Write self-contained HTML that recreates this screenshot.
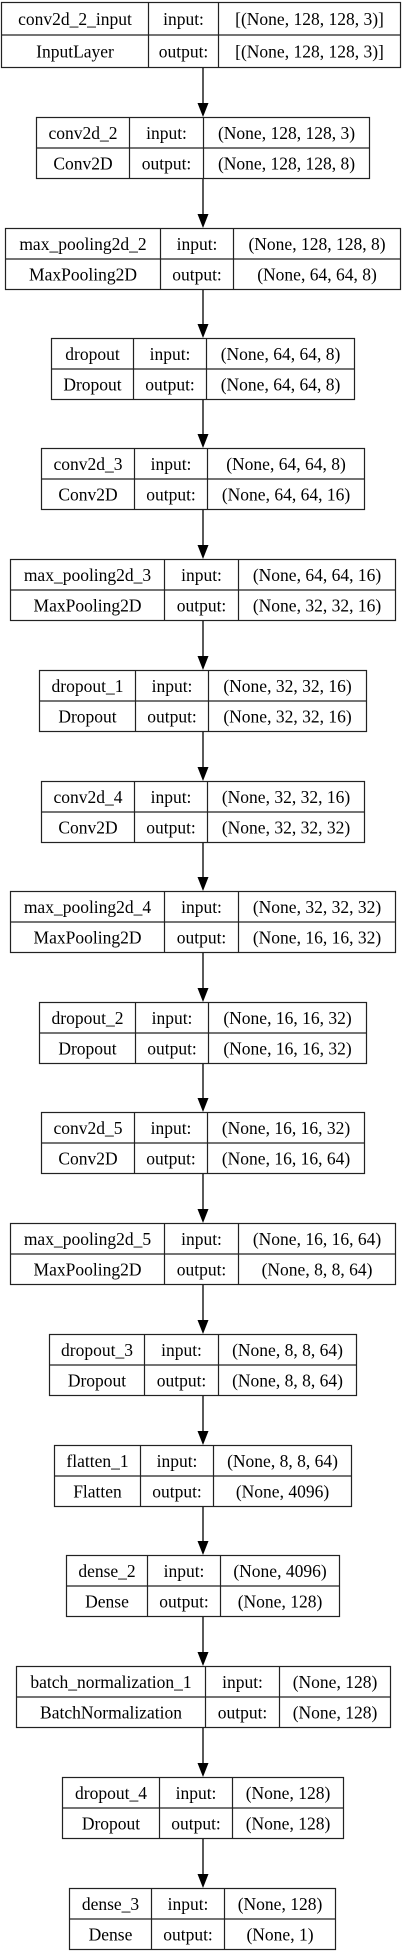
<!DOCTYPE html>
<html><head><meta charset="utf-8">
<style>
html,body{margin:0;padding:0;background:#fff;}
body{width:405px;height:1955px;overflow:hidden;position:relative;}
svg{position:absolute;left:0;top:0;}
text{font-family:"Liberation Serif","DejaVu Serif",serif;font-size:17.5px;fill:#000;}
</style></head>
<body>
<svg id="diagram" width="405" height="1955" viewBox="0 0 405 1955" xmlns="http://www.w3.org/2000/svg"></svg>
<script>
const layerNames = ["conv2d_2_input","conv2d_2","max_pooling2d_2","dropout","conv2d_3","max_pooling2d_3","dropout_1","conv2d_4","max_pooling2d_4","dropout_2","conv2d_5","max_pooling2d_5","dropout_3","flatten_1","dense_2","batch_normalization_1","dropout_4","dense_3"];
const layerTypes = ["InputLayer","Conv2D","MaxPooling2D","Dropout","Conv2D","MaxPooling2D","Dropout","Conv2D","MaxPooling2D","Dropout","Conv2D","MaxPooling2D","Dropout","Flatten","Dense","BatchNormalization","Dropout","Dense"];
const inputShapes = ["[(None, 128, 128, 3)]","(None, 128, 128, 3)","(None, 128, 128, 8)","(None, 64, 64, 8)","(None, 64, 64, 8)","(None, 64, 64, 16)","(None, 32, 32, 16)","(None, 32, 32, 16)","(None, 32, 32, 32)","(None, 16, 16, 32)","(None, 16, 16, 32)","(None, 16, 16, 64)","(None, 8, 8, 64)","(None, 8, 8, 64)","(None, 4096)","(None, 128)","(None, 128)","(None, 128)"];
const outputShapes = ["[(None, 128, 128, 3)]","(None, 128, 128, 8)","(None, 64, 64, 8)","(None, 64, 64, 8)","(None, 64, 64, 16)","(None, 32, 32, 16)","(None, 32, 32, 16)","(None, 32, 32, 32)","(None, 16, 16, 32)","(None, 16, 16, 32)","(None, 16, 16, 64)","(None, 8, 8, 64)","(None, 8, 8, 64)","(None, 4096)","(None, 128)","(None, 128)","(None, 128)","(None, 1)"];

// layout (pixel geometry, not data)
const boxTops = [2,117,228,338,448,559,670,781,891,1002,1112,1223,1334,1445,1555,1666,1777,1888];
const colX = [[1,148,218,400],[36,129,203,369],[5,160,233,400],[51,133,206,354],[41,134,207,364],[10,164,238,395],[39,135,208,366],[41,134,207,364],[10,164,238,395],[39,135,208,366],[41,134,207,364],[10,164,238,395],[49,144,218,356],[54,140,213,351],[66,147,220,339],[16,205,279,390],[62,159,232,343],[69,151,224,335]];
const NS = "http://www.w3.org/2000/svg";
const svg = document.getElementById('diagram');
const cx = 203;
function mk(tag, attrs, parent){const e=document.createElementNS(NS,tag);for(const k in attrs)e.setAttribute(k,attrs[k]);parent.appendChild(e);return e;}
layerNames.forEach((name,i)=>{
  const top = boxTops[i];
  const h = i===0 ? 65 : 61;
  const c = colX[i];
  const g = mk('g',{},svg);
  
  
  const r = mk('rect',{x:c[0]+0.5,y:top+0.5,width:c[3]-c[0],height:h,fill:'#fff',stroke:'#222','stroke-width':1.2},g);
  
  
  mk('line',{x1:c[0]+0.5,y1:top+0.5+h/2,x2:c[3]+0.5,y2:top+0.5+h/2,stroke:'#222','stroke-width':1.2},g);
  mk('line',{x1:c[1]+0.5,y1:top+0.5,x2:c[1]+0.5,y2:top+0.5+h,stroke:'#222','stroke-width':1.2},g);
  mk('line',{x1:c[2]+0.5,y1:top+0.5,x2:c[2]+0.5,y2:top+0.5+h,stroke:'#222','stroke-width':1.2},g);
  const cells = [
    [ (c[0]+c[1])/2, 0, name, 'layer-name' ],
    [ (c[1]+c[2])/2, 0, 'input:', 'input-label' ],
    [ (c[2]+c[3])/2, 0, inputShapes[i], 'input-shape' ],
    [ (c[0]+c[1])/2, 1, layerTypes[i], 'layer-type' ],
    [ (c[1]+c[2])/2, 1, 'output:', 'output-label' ],
    [ (c[2]+c[3])/2, 1, outputShapes[i], 'output-shape' ]
  ];
  cells.forEach(cl=>{
    const t = mk('text',{x:cl[0]+0.5,y:top + h/4 + cl[1]*h/2 + 6.5,'text-anchor':'middle'},g);
    t.textContent = cl[2];
    
    
  });
  if(i<layerNames.length-1){
    const y1 = top+h+1, y2 = boxTops[i+1];
    const a = mk('g',{},svg);
    
    
    mk('line',{x1:cx,y1:y1,x2:cx,y2:y2-13,stroke:'#000','stroke-width':1.3},a);
    mk('polygon',{points:`${cx-5.5},${y2-14} ${cx+5.5},${y2-14} ${cx},${y2}`,fill:'#000'},a);
  }
});
</script>
</body></html>
